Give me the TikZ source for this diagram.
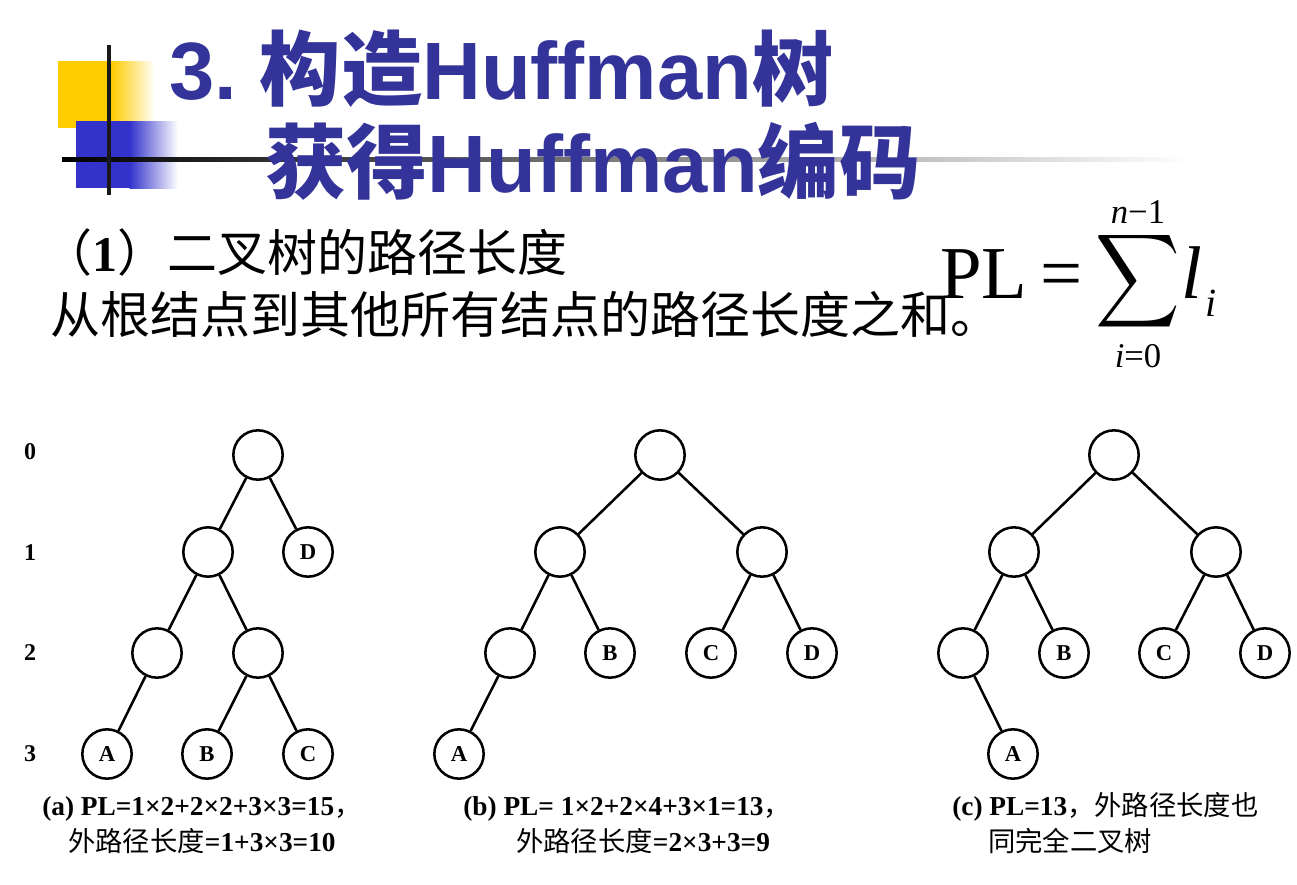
\documentclass[tikz,border=0pt]{standalone}
\usepackage{fontspec}
\setmainfont{Liberation Serif}
\newfontfamily\cjkfont{Noto Sans CJK SC}
\newfontfamily\headsans{Liberation Sans}
\definecolor{titleblue}{HTML}{333399}
\definecolor{sqyellow}{HTML}{FFCC00}
\definecolor{sqblue}{HTML}{3333CC}
\newcommand{\zh}[1]{{\cjkfont #1}}
\newcommand{\setsize}[1]{\fontsize{#1}{#1}\selectfont}

\begin{document}
\begin{tikzpicture}[x=0.75pt,y=-0.75pt,
  txt/.style={inner sep=0pt,anchor=base west},
  vtx/.style={circle,draw,line width=1.9pt,minimum size=37pt,inner sep=0pt,font=\setsize{17}\bfseries},
  edge/.style={line width=1.9pt},
  lvl/.style={inner sep=0pt,font=\setsize{18}\bfseries},
  captxt/.style={txt,font=\setsize{20.5}}]
\fill[white] (0,0) rectangle (1297,885);
\useasboundingbox (0,0) rectangle (1297,885);

% title decoration
\fill[sqyellow] (58,61) rectangle (112,128);
\shade[left color=sqyellow,right color=white] (111.5,61) rectangle (155,128);
\fill[sqblue] (76,121) rectangle (130,188);
\shade[left color=sqblue,right color=white] (129.5,121) rectangle (178,188);
\shade[left color=black,right color=white] (62,157.5) rectangle (1190,161.5);
\draw[line width=3.5pt,black!90] (109,45) -- (109,195);

% title
\node[txt,text=titleblue,font=\headsans\bfseries\setsize{61}] (title1) at (169,99) {3.\ \zh{构造}Huffman\zh{树}};
\node[txt,text=titleblue,font=\headsans\bfseries\setsize{61}] (title2) at (265,192) {\zh{获得}Huffman\zh{编码}};

% path length
\node[txt,font=\setsize{37.5}] (sub1) at (42,271) {\zh{（}\textbf{1}\zh{）二叉树的路径长度}};
\node[txt,font=\setsize{37.5}] (sub2) at (50,333) {\zh{从根结点到其他所有结点的路径长度之和。}};

% formula
\node[txt,font=\setsize{56}] (pl) at (940,298) {PL};
\node[txt,font=\setsize{56}] (eq) at (1040,298) {=};
\node[inner sep=0pt,xscale=4.4,yscale=4.9] (sum) at (1138,281) {$\displaystyle\sum$};
\node[inner sep=0pt,anchor=base,font=\setsize{26}] (upper) at (1138,223) {\textit{n}−1};
\node[inner sep=0pt,anchor=base,font=\setsize{26}] (lower) at (1138,367) {\textit{i}=0};
\node[txt,font=\setsize{56}] (ell) at (1181,298) {\textit{l}};
\node[txt,font=\setsize{30}] (sub) at (1205,316) {\textit{i}};

% levels
\node[lvl] (lv0) at (30,452) {0};
\node[lvl] (lv1) at (30,553) {1};
\node[lvl] (lv2) at (30,653) {2};
\node[lvl] (lv3) at (30,754) {3};

% tree (a)
\node[vtx] (a0) at (258,455) {};
\node[vtx] (a1) at (208,552) {};
\node[vtx] (aD) at (308,552) {D};
\node[vtx] (a21) at (157,653) {};
\node[vtx] (a22) at (258,653) {};
\node[vtx] (aA) at (107,754) {A};
\node[vtx] (aB) at (207,754) {B};
\node[vtx] (aC) at (308,754) {C};
\draw[edge] (a0) -- (a1);
\draw[edge] (a0) -- (aD);
\draw[edge] (a1) -- (a21);
\draw[edge] (a1) -- (a22);
\draw[edge] (a21) -- (aA);
\draw[edge] (a22) -- (aB);
\draw[edge] (a22) -- (aC);

% tree (b)
\node[vtx] (b0) at (660,455) {};
\node[vtx] (b1) at (560,552) {};
\node[vtx] (b2) at (762,552) {};
\node[vtx] (b21) at (510,653) {};
\node[vtx] (bB) at (610,653) {B};
\node[vtx] (bC) at (711,653) {C};
\node[vtx] (bD) at (812,653) {D};
\node[vtx] (bA) at (459,754) {A};
\draw[edge] (b0) -- (b1);
\draw[edge] (b0) -- (b2);
\draw[edge] (b1) -- (b21);
\draw[edge] (b1) -- (bB);
\draw[edge] (b2) -- (bC);
\draw[edge] (b2) -- (bD);
\draw[edge] (b21) -- (bA);

% tree (c)
\node[vtx] (c0) at (1114,455) {};
\node[vtx] (c1) at (1014,552) {};
\node[vtx] (c2) at (1216,552) {};
\node[vtx] (c21) at (963,653) {};
\node[vtx] (cB) at (1064,653) {B};
\node[vtx] (cC) at (1164,653) {C};
\node[vtx] (cD) at (1265,653) {D};
\node[vtx] (cA) at (1013,754) {A};
\draw[edge] (c0) -- (c1);
\draw[edge] (c0) -- (c2);
\draw[edge] (c1) -- (c21);
\draw[edge] (c1) -- (cB);
\draw[edge] (c2) -- (cC);
\draw[edge] (c2) -- (cD);
\draw[edge] (c21) -- (cA);

% captions
\node[captxt] (capa1) at (42,815) {\textbf{(a) PL=1×2+2×2+3×3=15}\zh{，}};
\node[captxt] (capa2) at (68,851) {\zh{外路径长度}\textbf{=1+3×3=10}};
\node[captxt] (capb1) at (463,815) {\textbf{(b) PL= 1×2+2×4+3×1=13}\zh{，}};
\node[captxt] (capb2) at (516,851) {\zh{外路径长度}\textbf{=2×3+3=9}};
\node[captxt] (capc1) at (952,815) {\textbf{(c) PL=13}\zh{，外路径长度也}};
\node[captxt] (capc2) at (988,851) {\zh{同完全二叉树}};
\end{tikzpicture}
\end{document}
